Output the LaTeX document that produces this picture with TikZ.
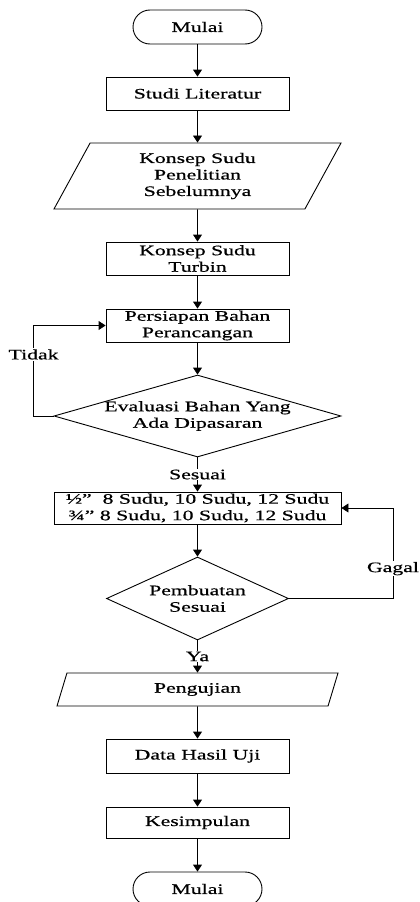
\documentclass[tikz,border=0pt]{standalone}
\usepackage{fontspec}
\setmainfont{Liberation Serif}[FakeStretch=1.5, FakeBold=0.6]
\usetikzlibrary{shapes.geometric,arrows.meta}

\begin{document}
\begin{tikzpicture}[
  x=1pt, y=1pt, line width=0.9pt, >={Triangle[width=9pt,length=7pt]},
  every node/.style={font=\fontsize{14.5}{16.5}\selectfont, align=center},
  terminal/.style={draw, rectangle, rounded corners=17pt, minimum width=129pt, minimum height=34pt},
  box/.style={draw, rectangle, minimum width=183pt, minimum height=33pt, inner sep=0pt},
  io/.style={draw, trapezium, trapezium left angle=52, trapezium right angle=128, trapezium stretches body, inner sep=0pt},
  decision/.style={draw, diamond, inner xsep=-5pt, inner ysep=0pt},
  tag/.style={fill=white, inner sep=1pt}
]
\useasboundingbox (0,0) rectangle (420,-902);

\node[terminal] (start) at (197.5,-27) {Mulai};
\node[box] (studi) at (197.5,-93.5) {Studi Literatur};
\node[io, minimum width=287pt, minimum height=66pt] (konsep) at (197.5,-176) {Konsep Sudu\\Penelitian\\Sebelumnya};
\node[box] (turbin) at (197.5,-258.5) {Konsep Sudu\\Turbin};
\node[box] (bahan) at (197.5,-325.5) {Persiapan Bahan\\Perancangan};
\node[decision, aspect=3.5, minimum width=287pt, minimum height=82pt] (eval) at (197.5,-416) {Evaluasi Bahan Yang\\Ada Dipasaran};

\node[box, minimum width=287pt, minimum height=32pt] (variasi) at (197.5,-508) {½”\ \ 8 Sudu, 10 Sudu, 12 Sudu\\¾” 8 Sudu, 10 Sudu, 12 Sudu};
\node[decision, aspect=2.2, minimum width=182pt, minimum height=83pt] (buat) at (197.5,-598.5) {Pembuatan\\Sesuai};

\node[io, minimum width=281pt, minimum height=33pt] (uji) at (197.5,-689.5) {Pengujian};
\node[box, minimum height=34pt] (data) at (197.5,-756) {Data Hasil Uji};
\node[box, minimum height=31pt] (simpul) at (197.5,-822.5) {Kesimpulan};
\node[terminal] (selesai) at (197.5,-889) {Mulai};

\draw[->] (start) -- (studi);
\draw[->] (studi) -- (konsep);
\draw[->] (konsep) -- (turbin);
\draw[->] (turbin) -- (bahan);
\draw[->] (bahan) -- (eval);
\draw[->] (eval) -- node[tag] {Sesuai} (variasi);
\draw[->] (variasi) -- (buat);
\draw[->] (buat) -- node[tag] {Ya} (uji);
\draw[->] (uji) -- (data);
\draw[->] (data) -- (simpul);
\draw[->] (simpul) -- (selesai);

% loops back
\draw[->] (eval.west) -- ++(-20,0) |- node[tag, pos=0.34] {Tidak} (bahan.west);
\draw[->] (buat.east) -- ++(104,0) |- node[tag, pos=0.165] {Gagal} (variasi.east);
\end{tikzpicture}
\end{document}
